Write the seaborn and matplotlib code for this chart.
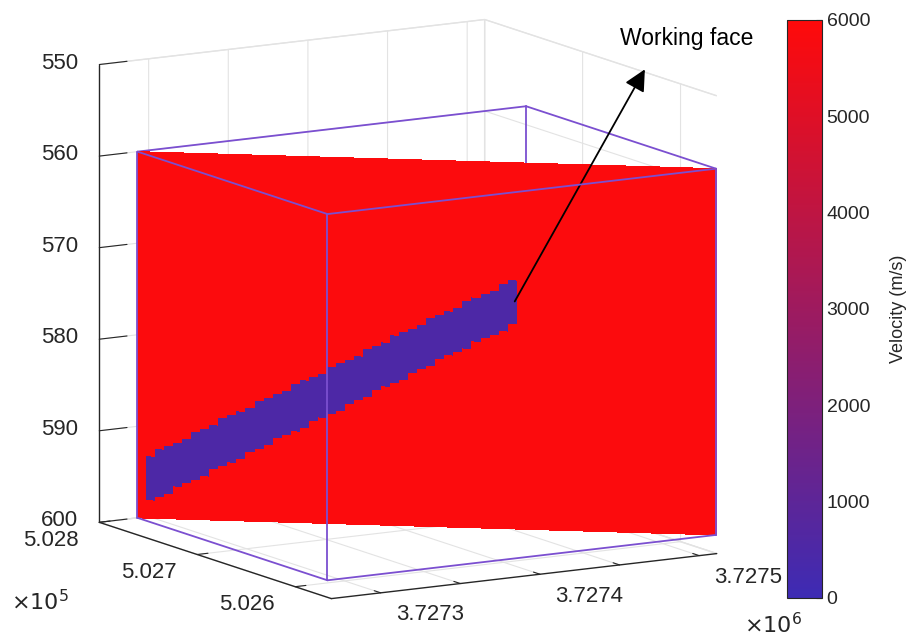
import numpy as np
import matplotlib
matplotlib.use("Agg")
import matplotlib.pyplot as plt
import seaborn as sns
from matplotlib.colors import Normalize
from matplotlib.cm import ScalarMappable
from mpl_toolkits.mplot3d import proj3d

# axis limits and ticks
x_lim = (502563, 502800)
y_lim = (3727269, 3727511)
z_lim = (550, 600)
x_ticks = [502600, 502700, 502800]
x_labels = ["5.026", "5.027", "5.028"]
y_ticks = [3727300, 3727350, 3727400, 3727450, 3727500]
y_labels = ["3.7273", "", "3.7274", "", "3.7275"]
z_ticks = [550, 560, 570, 580, 590, 600]
z_labels = ["550", "560", "570", "580", "590", "600"]

# model frame (purple box)
box_x = (502606, 502800)
box_y = (3727293, 3727537)
box_z = (560, 600)

# velocities (m/s)
rock_velocity = 5900
seam_velocity = 500
vel_range = (0, 6000)
cbar_ticks = [0, 1000, 2000, 3000, 4000, 5000, 6000]

# working face inside the diagonal slice
# s = position along the slice, 0 at left corner, 1 at right corner
seam_s = [0.012, 0.652]
seam_top = [593.4, 572.7]
seam_bottom = [598.5, 577.6]

sns.set_style("white")
plt.rcParams["font.family"] = ["Liberation Sans", "DejaVu Sans"]
plt.rcParams["grid.color"] = "#e3e3e3"
plt.rcParams["grid.linewidth"] = 0.8

cmap = sns.blend_palette(["#3d2bb4", "#ff0a0a"], as_cmap=True)
norm = Normalize(*vel_range)

# slice grid
n_s, n_z = 64, 100
s_edges = np.linspace(0, 1, n_s + 1)
z_edges = np.linspace(box_z[0], box_z[1], n_z + 1)
s_c = (s_edges[:-1] + s_edges[1:]) / 2
z_c = (z_edges[:-1] + z_edges[1:]) / 2
top = np.interp(s_c, seam_s, seam_top)
bot = np.interp(s_c, seam_s, seam_bottom)
inside = (s_c >= seam_s[0]) & (s_c <= seam_s[1])
vel = np.full((n_z, n_s), float(rock_velocity))
mask = inside[None, :] & (z_c[:, None] >= top[None, :]) & (z_c[:, None] <= bot[None, :])
vel[mask] = seam_velocity

S, Z = np.meshgrid(s_edges, z_edges)
X = box_x[1] + S * (box_x[0] - box_x[1])
Y = box_y[0] + S * (box_y[1] - box_y[0])
fc = np.ones((n_z + 1, n_s + 1, 4))
fc[:-1, :-1] = cmap(norm(vel))

W, H = 907, 636
fig = plt.figure(figsize=(W / 100, H / 100), dpi=100)
ax = fig.add_subplot(projection="3d", computed_zorder=False)
ax.set_position([0.0, -0.02, 0.88, 1.04])
ax.set_proj_type("ortho")

# purple frame, back edges drawn under the slice
x0, x1 = box_x
y0, y1 = box_y
za, zb = box_z
purple = "#7b4fd0"
back = [((x1, y0), (x1, y1)), ((x1, y1), (x0, y1))]
front = [((x1, y0), (x0, y0)), ((x0, y0), (x0, y1))]
for (p, q) in back:
    for zz in (za, zb):
        ax.plot([p[0], q[0]], [p[1], q[1]], [zz, zz], color=purple, lw=1.3, zorder=1)
ax.plot([x1, x1], [y1, y1], [za, zb], color=purple, lw=1.3, zorder=1)

ax.plot_surface(X, Y, Z, facecolors=fc, rstride=1, cstride=1, shade=False,
                linewidth=0, antialiased=False, zorder=2)

for (p, q) in front:
    for zz in (za, zb):
        ax.plot([p[0], q[0]], [p[1], q[1]], [zz, zz], color=purple, lw=1.3, zorder=4)
for (px, py) in [(x1, y0), (x0, y0), (x0, y1)]:
    ax.plot([px, px], [py, py], [za, zb], color=purple, lw=1.3, zorder=4)

ax.set_xlim(x_lim[1], x_lim[0])
ax.set_ylim(*y_lim)
ax.set_zlim(z_lim[1], z_lim[0])
ax.set_box_aspect((1, 0.99, 1.03), zoom=1.16)
ax.view_init(elev=11.3, azim=-30.8)

ax.set_xticks(x_ticks)
ax.set_yticks(y_ticks)
ax.set_zticks(z_ticks)
ax.set_xticklabels([])
ax.set_yticklabels([])
ax.set_zticklabels([])
ax.zaxis.set_ticks_position("lower")

for axis in (ax.xaxis, ax.yaxis, ax.zaxis):
    axis.set_pane_color((1, 1, 1, 1))
    axis.pane.set_edgecolor("#e3e3e3")
    axis.line.set_color("#262626")
    axis.line.set_linewidth(1.0)
    axis._axinfo["tick"]["inward_factor"] = 0.0
    axis._axinfo["tick"]["outward_factor"] = 0.35
    axis._axinfo["tick"]["color"] = "#262626"
ax.zaxis._axinfo["tick"]["outward_factor"] = 0.9

fig.canvas.draw()
M = ax.get_proj()


def to_px(x, y, z):
    px, py, _ = proj3d.proj_transform(x, y, z, M)
    return ax.transData.transform((px, py))


# tick labels placed like MATLAB's
tick_kw = dict(fontsize=16, color="#262626")
for v, lab in zip(z_ticks, z_labels):
    dx, dy = to_px(x_lim[1], y_lim[0], v)
    fig.text((dx - 21) / W, (dy + 1.5) / H, lab, ha="right", va="center", **tick_kw)
for v, lab in zip(x_ticks, x_labels):
    dx, dy = to_px(v, y_lim[0], z_lim[1])
    fig.text((dx - 48) / W, (dy - 18) / H, lab, ha="center", va="center", **tick_kw)
for v, lab in zip(y_ticks, y_labels):
    if lab:
        dx, dy = to_px(x_lim[0], v, z_lim[1])
        fig.text((dx + 49) / W, (dy - 22) / H, lab, ha="center", va="center", **tick_kw)

fig.text(0.012, 0.04, r"$\times10^5$", fontsize=16, color="#262626")
fig.text(0.82, 0.005, r"$\times10^6$", fontsize=16, color="#262626")

# colorbar
cax = fig.add_axes([0.868, 0.060, 0.038, 0.909])
sm = ScalarMappable(norm=norm, cmap=cmap)
cb = fig.colorbar(sm, cax=cax)
cb.set_ticks(cbar_ticks)
cax.tick_params(direction="in", length=4, labelsize=14, colors="#262626")
cb.outline.set_edgecolor("#262626")
cb.outline.set_linewidth(0.8)
cb.set_label("Velocity (m/s)", fontsize=13, color="#262626", labelpad=14)

# annotation arrow from the end of the working face
tail_z = (seam_top[1] + seam_bottom[1]) / 2
tx = x1 + seam_s[1] * (x0 - x1)
ty = y0 + seam_s[1] * (y1 - y0)
px, py, _ = proj3d.proj_transform(tx, ty, tail_z, M)
ax.annotate("", xy=(0.711, 0.891), xycoords="figure fraction",
            xytext=(px, py), textcoords="data",
            arrowprops=dict(arrowstyle="-|>,head_length=0.5,head_width=0.25", color="black",
                            lw=1.3, mutation_scale=26, shrinkA=0, shrinkB=0))
fig.text(0.684, 0.94, "Working face", fontsize=16.5, color="black", va="center")

fig.savefig("out.png", dpi=100)
